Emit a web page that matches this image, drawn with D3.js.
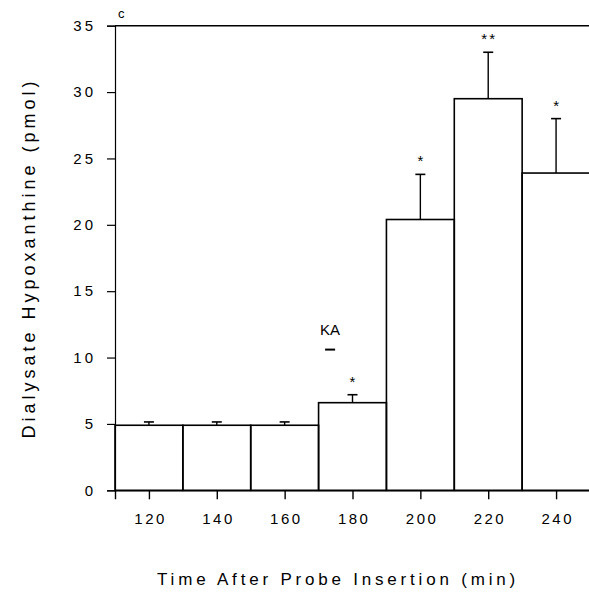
<!DOCTYPE html>
<html>
<head>
<meta charset="utf-8">
<script src="https://cdn.jsdelivr.net/npm/d3@7"></script>
<style>
  html, body { margin: 0; padding: 0; background: #fff; }
  svg { display: block; }
  text { font-family: "Liberation Sans", Arial, sans-serif; fill: #000; }
</style>
</head>
<body>
<svg id="chart" width="589" height="592"></svg>
<script>
const times = [120, 140, 160, 180, 200, 220, 240];
const means = [4.9, 4.9, 4.9, 6.6, 20.4, 29.5, 23.9];
const sems = [0.25, 0.25, 0.25, 0.6, 3.4, 3.5, 4.1];
const marks = ["", "", "", "*", "*", "**", "*"];
const yTicks = [0, 5, 10, 15, 20, 25, 30, 35];
const xTicks = [120, 140, 160, 180, 200, 220, 240];
const binWidth = 20;

const svg = d3.select("#chart");
const plotLeft = 115, plotRight = 590, plotTop = 25.7, plotBottom = 490.3;

const x = d3.scaleLinear().domain([110, 250]).range([plotLeft, plotRight]);
const y = d3.scaleLinear().domain([0, 35]).range([plotBottom, plotTop]);

// bars
const g = svg.append("g");
times.forEach((t, i) => {
  const x0 = x(t - binWidth / 2), x1 = x(t + binWidth / 2);
  const cx = x(t);
  const topY = y(means[i] + sems[i]);
  g.append("line").attr("x1", cx).attr("x2", cx)
    .attr("y1", y(means[i])).attr("y2", topY)
    .attr("stroke", "#000").attr("stroke-width", 1.4);
  g.append("line").attr("x1", cx - 5).attr("x2", cx + 5)
    .attr("y1", topY).attr("y2", topY)
    .attr("stroke", "#000").attr("stroke-width", 1.6);
  g.append("rect").attr("x", x0).attr("y", y(means[i]))
    .attr("width", x1 - x0).attr("height", y(0) - y(means[i]))
    .attr("fill", "none").attr("stroke", "#000").attr("stroke-width", 1.6);
  if (marks[i]) {
    g.append("text").attr("x", cx + 1).attr("y", topY - 8)
      .attr("text-anchor", "middle").attr("font-size", 15)
      .attr("letter-spacing", 2)
      .text(marks[i]);
  }
});

// axes
const yAxis = d3.axisLeft(y).tickValues(yTicks).tickSize(8).tickPadding(11)
  .tickFormat(d3.format("d"));
const yg = svg.append("g").attr("transform", `translate(${plotLeft},0)`).call(yAxis);
yg.select(".domain").attr("stroke-width", 1.2);
yg.selectAll(".tick line").attr("stroke-width", 1.2);
yg.selectAll("text").attr("font-size", 15).attr("letter-spacing", 3)
  .style("font-family", "'Liberation Sans', Arial, sans-serif");

const xAxis = d3.axisBottom(x).tickValues(xTicks).tickSize(9).tickPadding(14)
  .tickFormat(d3.format("d"));
const xg = svg.append("g").attr("transform", `translate(0,${plotBottom})`).call(xAxis);
xg.select(".domain").attr("stroke-width", 1.4);
xg.selectAll(".tick line").attr("stroke-width", 1.4);
xg.selectAll("text").attr("font-size", 15).attr("letter-spacing", 2.5).attr("dx", 1.2)
  .style("font-family", "'Liberation Sans', Arial, sans-serif");

// top frame line at 35
svg.append("line").attr("x1", plotLeft).attr("x2", plotRight)
  .attr("y1", y(35)).attr("y2", y(35))
  .attr("stroke", "#000").attr("stroke-width", 1.4);

// panel letter
svg.append("text").attr("x", plotLeft + 3).attr("y", y(35) - 8)
  .attr("font-size", 13).text("c");

// KA marker
svg.append("text").attr("x", x(173.4)).attr("y", y(11.7))
  .attr("text-anchor", "middle").attr("font-size", 15).text("KA");
svg.append("line").attr("x1", x(173.4) - 5).attr("x2", x(173.4) + 5)
  .attr("y1", y(10.6)).attr("y2", y(10.6))
  .attr("stroke", "#000").attr("stroke-width", 2);

// axis titles
svg.append("text").attr("x", 338).attr("y", 585)
  .attr("text-anchor", "middle").attr("font-size", 17).attr("letter-spacing", 3.8)
  .text("Time After Probe Insertion (min)");
svg.append("text")
  .attr("transform", `translate(35,${(78 + 438) / 2}) rotate(-90)`)
  .attr("text-anchor", "middle").attr("font-size", 18).attr("letter-spacing", 4)
  .text("Dialysate Hypoxanthine (pmol)");
</script>
</body>
</html>
